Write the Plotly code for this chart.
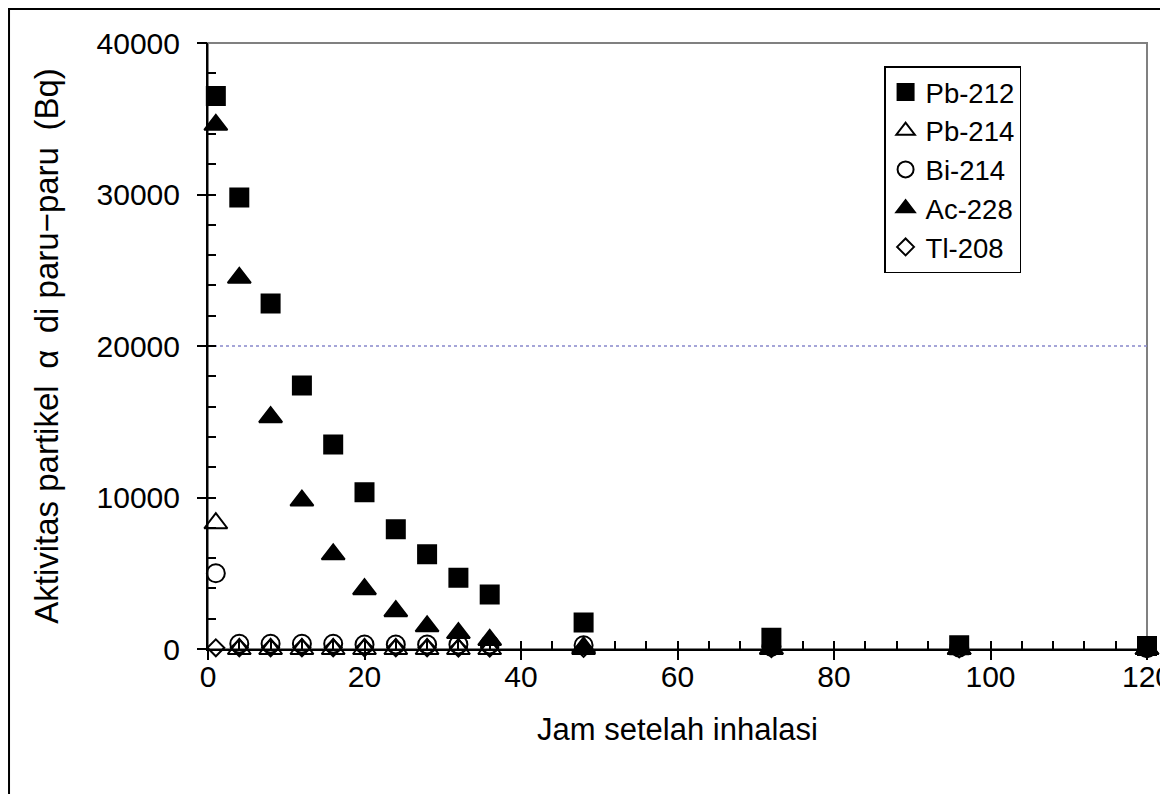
import plotly.graph_objects as go

hours = [1, 4, 8, 12, 16, 20, 24, 28, 32, 36, 48, 72, 96, 120]
pb212 = [36500, 29800, 22800, 17400, 13500, 10350, 7900, 6250, 4700, 3600, 1750, 750, 250, 200]
pb214 = [8300, 0, 0, 0, 0, 0, 0, 0, 0, 0, 0, 0, 0, 0]
bi214 = [5000, 350, 350, 350, 350, 300, 300, 300, 300, 300, 250, 150, 100, 50]
ac228 = [34600, 24500, 15300, 9800, 6250, 3950, 2500, 1500, 1050, 600, 100, 20, 5, 0]
tl208 = [80, 80, 80, 80, 80, 80, 80, 80, 60, 60, 40, 20, 10, 5]

series_names = ["Pb-212", "Pb-214", "Bi-214", "Ac-228", "Tl-208"]
x_ticks = [0, 20, 40, 60, 80, 100, 120]
y_ticks = [0, 10000, 20000, 30000, 40000]
y_tick_text = [str(v) for v in y_ticks]
x_tick_text = [str(v) for v in x_ticks]

FONT = "Liberation Sans"

fig = go.Figure()
styles = [
    (pb212, "square", 18),
    (pb214, "triangle-up-open", 20),
    (bi214, "circle-open", 18),
    (ac228, "triangle-up", 20),
    (tl208, "diamond-open", 13),
]
for name, (vals, sym, size) in zip(series_names, styles):
    fig.add_trace(go.Scatter(
        x=hours, y=vals, name=name, mode="markers", cliponaxis=False,
        marker=dict(symbol=sym, size=size, color="black",
                    line=dict(color="black", width=2)),
    ))

# invisible helper traces for overlay axes carrying tick marks
for xa, ya in (("x2", "y2"), ("x3", "y3")):
    fig.add_trace(go.Scatter(x=[0], y=[0], xaxis=xa, yaxis=ya, mode="markers",
                             marker=dict(opacity=0), showlegend=False,
                             hoverinfo="skip"))

tick_common = dict(showticklabels=False, showgrid=False, zeroline=False,
                   showline=False, tickwidth=2, tickcolor="black",
                   automargin=False)

fig.update_layout(
    width=1160, height=786,
    margin=dict(l=200, r=21, t=35, b=145, autoexpand=False),
    paper_bgcolor="white", plot_bgcolor="white",
    font=dict(family=FONT, size=30, color="black"),
    showlegend=True,
    legend=dict(x=0.72, y=0.962, xanchor="left", yanchor="top",
                bordercolor="black", borderwidth=1.5, bgcolor="white",
                font=dict(family=FONT, size=27.5), tracegroupgap=0,
                itemsizing="trace"),
    xaxis=dict(range=[0, 120], tickvals=x_ticks, ticktext=x_tick_text, ticks="",
               showline=True, linecolor="black", linewidth=2, showgrid=False,
               zeroline=False, ticklabelstandoff=0, ticklabeloverflow="allow",
               automargin=False,
               tickfont=dict(family=FONT, size=30),
               title=dict(text="Jam setelah inhalasi", standoff=26,
                          font=dict(family=FONT, size=31))),
    yaxis=dict(range=[0, 40000], tickvals=y_ticks, ticktext=y_tick_text, ticks="",
               showline=True, linecolor="black", linewidth=2, showgrid=False,
               zeroline=False, ticklabelstandoff=20, ticklabeloverflow="allow",
               automargin=False,
               tickfont=dict(family=FONT, size=30),
               title=dict(text="Aktivitas partikel\u2002α\u2002di paru−paru\u2002(Bq)",
                          standoff=28, font=dict(family=FONT, size=33))),
    xaxis2=dict(range=[0, 120], overlaying="x", side="bottom", anchor="y",
                dtick=4, tick0=0, ticks="inside", ticklen=8, **tick_common),
    yaxis2=dict(range=[0, 40000], overlaying="y", side="left", anchor="x",
                dtick=2000, tick0=0, ticks="inside", ticklen=8, **tick_common),
    xaxis3=dict(range=[0, 120], overlaying="x", side="bottom", anchor="y",
                dtick=20, tick0=0, ticks="outside", ticklen=10, **tick_common),
    yaxis3=dict(range=[0, 40000], overlaying="y", side="left", anchor="x",
                dtick=10000, tick0=0, ticks="outside", ticklen=10, **tick_common),
    shapes=[
        dict(type="rect", xref="paper", yref="paper", x0=0, x1=1, y0=0, y1=1,
             line=dict(color="#808080", width=2), layer="below"),
        dict(type="line", xref="paper", yref="y", x0=0, x1=1, y0=20000, y1=20000,
             line=dict(color="#8888CC", width=1.5, dash="dot"), layer="below"),
        dict(type="rect", xref="paper", yref="paper",
             x0=-0.2119, x1=1.06, y0=-0.3, y1=1.0561,
             line=dict(color="black", width=2), layer="below"),
    ],
)

fig.write_html("out.html")
